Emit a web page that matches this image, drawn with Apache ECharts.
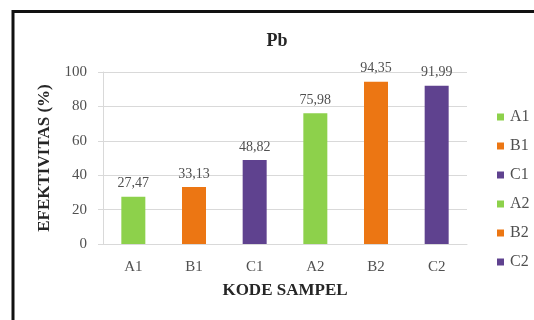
<!DOCTYPE html>
<html>
<head>
<meta charset="utf-8">
<script src="https://cdn.jsdelivr.net/npm/echarts@6/dist/echarts.min.js"></script>
<style>
  html, body { margin: 0; padding: 0; background: #ffffff; }
  #chart { width: 534px; height: 320px; }
</style>
</head>
<body>
<div id="chart"></div>
<script>
// Sample codes on the category axis
const categories = ['A1', 'B1', 'C1', 'A2', 'B2', 'C2'];
// Pb removal effectiveness (%) per sample
const effectiveness = [27.47, 33.13, 48.82, 75.98, 94.35, 91.99];
// Bar colours per sample
const barColors = ['#8dd14b', '#ec7613', '#5f428f', '#8dd14b', '#ec7613', '#5f428f'];
// Value axis ticks
const yTicks = [0, 20, 40, 60, 80, 100];

const serif = '"Liberation Serif", "DejaVu Serif", serif';

// One series per sample so each gets its own legend entry; stacking keeps bars centred.
const series = categories.map(function (name, i) {
  const data = categories.map(function (_, j) { return j === i ? effectiveness[i] : '-'; });
  return {
    name: name,
    type: 'bar',
    stack: 'all',
    barWidth: 24,
    data: data,
    itemStyle: { color: barColors[i] },
    label: {
      show: true,
      position: 'top',
      distance: 6,
      fontFamily: serif,
      fontSize: 14,
      color: '#505050',
      formatter: function (p) { return p.value.toFixed(2).replace('.', ','); }
    }
  };
});

const chart = echarts.init(document.getElementById('chart'), null, { renderer: 'canvas' });
chart.setOption({
  backgroundColor: '#ffffff',
  animation: false,
  title: {
    text: 'Pb',
    left: 272,
    top: 27,
    textAlign: 'center',
    textStyle: { fontFamily: serif, fontWeight: 'bold', fontSize: 18, color: '#262626' }
  },
  grid: { left: 103, right: 67, top: 72, bottom: 76 },
  legend: {
    orient: 'vertical',
    left: 497,
    top: 109,
    padding: 0,
    itemWidth: 7,
    itemHeight: 7,
    itemGap: 13,
    icon: 'rect',
    textStyle: { fontFamily: serif, fontSize: 16, lineHeight: 16, color: '#505050', padding: [0, 0, 0, 1] },
    data: categories
  },
  xAxis: {
    type: 'category',
    data: categories,
    name: 'KODE SAMPEL',
    nameLocation: 'middle',
    nameGap: 38,
    nameTextStyle: { fontFamily: serif, fontWeight: 'bold', fontSize: 17, color: '#262626' },
    axisLine: { lineStyle: { color: '#d9d9d9', width: 1 } },
    axisTick: { show: false },
    axisLabel: { fontFamily: serif, fontSize: 15, color: '#505050', margin: 16 }
  },
  yAxis: {
    type: 'value',
    min: yTicks[0],
    max: yTicks[yTicks.length - 1],
    interval: yTicks[1] - yTicks[0],
    name: 'EFEKTIVITAS (%)',
    nameLocation: 'middle',
    nameGap: 48,
    nameTextStyle: { fontFamily: serif, fontWeight: 'bold', fontSize: 17, color: '#262626' },
    axisLine: { show: true, lineStyle: { color: '#d9d9d9', width: 1 } },
    axisTick: { show: true, length: 5, lineStyle: { color: '#d9d9d9' } },
    axisLabel: { fontFamily: serif, fontSize: 15, color: '#505050', margin: 16 },
    splitLine: { lineStyle: { color: '#d9d9d9', width: 1 } }
  },
  graphic: [{
    type: 'rect',
    shape: { x: 13, y: 11.5, width: 700, height: 500 },
    style: { fill: 'none', stroke: '#111111', lineWidth: 3 },
    silent: true,
    z: 100
  }],
  series: series
});
</script>
</body>
</html>
